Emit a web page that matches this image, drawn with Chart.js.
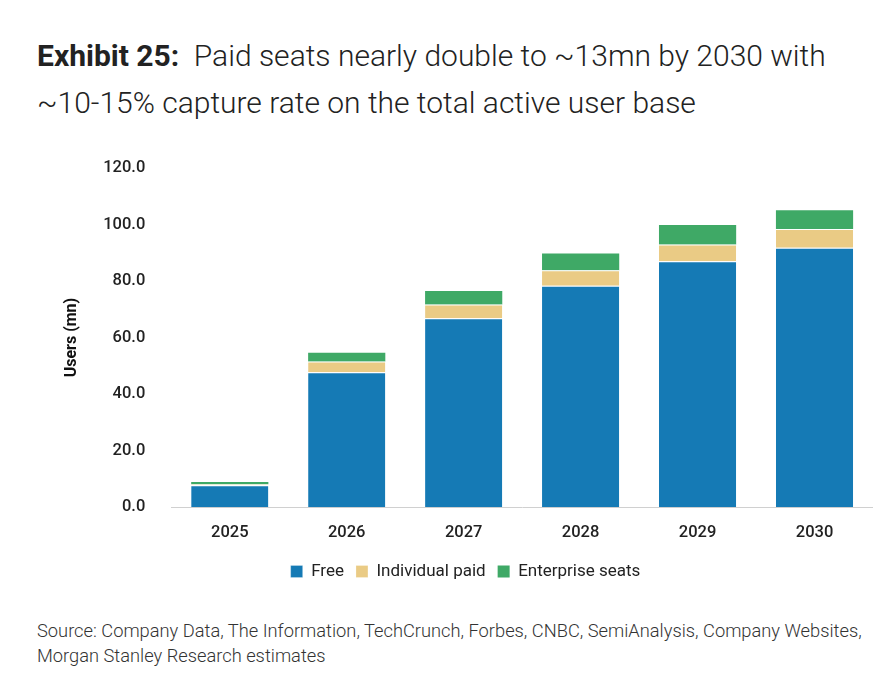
<!DOCTYPE html>
<html><head><meta charset="utf-8">
<script src="https://cdn.jsdelivr.net/npm/chart.js@4"></script>
<style>
body{margin:0;background:#fff;font-family:Roboto,"Noto Sans",sans-serif;width:881px;height:695px;position:relative;overflow:hidden}
#t{position:absolute;left:37px;top:32px;font-size:30px;line-height:47px;color:#222;font-weight:300}
#t b{font-weight:700}
#c{position:absolute;left:58px;top:140px;width:815px;height:450px}
#s{position:absolute;left:37px;top:618px;font-size:18.3px;line-height:25px;color:#333;font-weight:300}
</style></head><body>
<div id="t"><b>Exhibit 25:</b>&nbsp; Paid seats nearly double to ~13mn by 2030 with<br>~10-15% capture rate on the total active user base</div>
<div id="c"><canvas id="cv"></canvas></div>
<div id="s">Source: Company Data, The Information, TechCrunch, Forbes, CNBC, SemiAnalysis, Company Websites,<br>Morgan Stanley Research estimates</div>
<script>
const categories=["2025","2026","2027","2028","2029","2030"];
const free=[7.8,47.7,66.8,78.3,87.0,91.8];
const individualPaid=[0.3,3.8,4.9,5.5,5.9,6.6];
const enterpriseSeats=[0.8,3.1,4.8,5.9,6.9,6.6];
const yTicks=[0,20,40,60,80,100,120];
new Chart(document.getElementById('cv'),{type:'bar',
data:{labels:categories,datasets:[
{label:'Free',data:free,backgroundColor:'#157AB5',borderColor:'#ffffff',borderWidth:{top:1},borderSkipped:false},
{label:'Individual paid',data:individualPaid,backgroundColor:'#EACB85',borderColor:'#ffffff',borderWidth:{top:1},borderSkipped:false},
{label:'Enterprise seats',data:enterpriseSeats,backgroundColor:'#3FA966',borderColor:'#ffffff',borderWidth:{top:0},borderSkipped:false}]},
options:{responsive:true,maintainAspectRatio:false,animation:false,
layout:{padding:{left:0,right:0,top:8}},
datasets:{bar:{categoryPercentage:0.66,barPercentage:1}},
plugins:{legend:{position:'bottom',labels:{boxWidth:12,boxHeight:12,font:{size:17,family:'Roboto'},color:'#222',padding:12}},tooltip:{enabled:false}},
scales:{x:{stacked:true,grid:{display:false},border:{color:'#d0d0d0'},ticks:{font:{size:16.5,family:'Roboto',weight:'500'},color:'#222',padding:8}},
y:{stacked:true,min:0,max:120,afterBuildTicks:a=>{a.ticks=yTicks.map(v=>({value:v}));},
grid:{display:false},border:{display:false},
ticks:{callback:v=>v.toFixed(1),font:{size:16.5,family:'Roboto',weight:'500'},color:'#222',padding:18},
title:{display:true,text:'Users (mn)',font:{size:16,family:'Roboto',weight:'bold'},color:'#111'}}}}});
</script></body></html>
